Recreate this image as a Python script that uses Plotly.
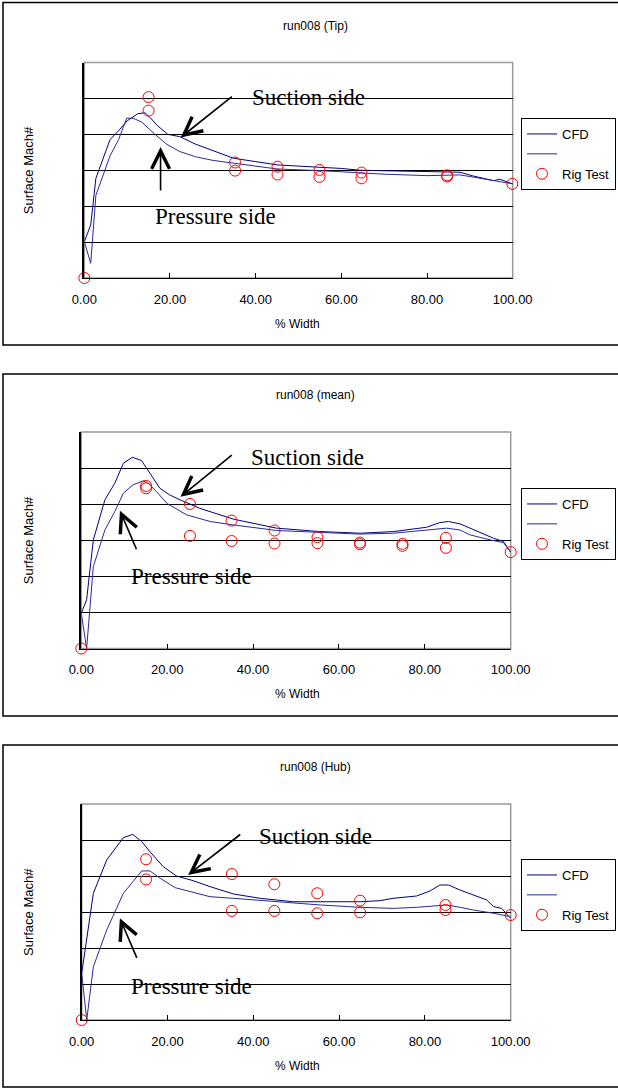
import plotly.graph_objects as go

# ---------------- data ----------------
panel_titles = ["run008 (Tip)", "run008 (mean)", "run008 (Hub)"]
x_ticks = [0, 20, 40, 60, 80, 100]
grid_vals = [0.2, 0.4, 0.6, 0.8, 1.0]

# Tip
tip_suction_x = [0, 1.5, 2.7, 6.0, 8.0, 10.0, 12.5, 14.2, 15.5, 17.0, 19.5, 22.3, 26.0, 30.0, 34.8, 40.0, 45.0, 50.0, 55.0, 60.0, 64.4, 70.0, 80.0, 87.7, 90.8, 95.5, 97.0, 100.0]
tip_suction_y = [0.202, 0.295, 0.555, 0.77, 0.82, 0.875, 0.915, 0.92, 0.89, 0.85, 0.80, 0.787, 0.745, 0.71, 0.667, 0.648, 0.63, 0.623, 0.617, 0.61, 0.60, 0.597, 0.592, 0.589, 0.568, 0.542, 0.55, 0.524]
tip_pressure_x = [0, 1.5, 2.7, 6.0, 8.0, 9.9, 11.4, 13.4, 16.5, 19.2, 22.3, 26.0, 30.0, 34.8, 40.0, 45.0, 55.0, 64.4, 70.0, 80.0, 87.7, 90.8, 95.5, 100.0]
tip_pressure_y = [0.202, 0.082, 0.46, 0.68, 0.77, 0.89, 0.89, 0.868, 0.80, 0.745, 0.704, 0.675, 0.655, 0.639, 0.62, 0.607, 0.598, 0.583, 0.578, 0.57, 0.574, 0.562, 0.542, 0.524]
tip_rig_x = [0, 15.0, 15.0, 35.2, 35.2, 45.1, 45.1, 54.9, 54.9, 64.7, 64.7, 84.7, 84.7, 99.9]
tip_rig_y = [0.0, 1.007, 0.932, 0.643, 0.598, 0.620, 0.576, 0.602, 0.563, 0.587, 0.555, 0.572, 0.565, 0.524]

# Mean
mean_suction_x = [0, 1.24, 2.8, 5.5, 7.8, 9.8, 11.9, 14.0, 16.0, 18.3, 20.6, 23.0, 27.6, 35.4, 45.5, 55.6, 61.0, 64.9, 72.7, 80.4, 83.5, 85.5, 88.2, 90.5, 94.4, 96.0, 98.3, 100.0]
mean_suction_y = [0.196, 0.27, 0.602, 0.824, 0.916, 1.027, 1.06, 1.042, 0.971, 0.888, 0.851, 0.824, 0.777, 0.717, 0.667, 0.648, 0.643, 0.639, 0.648, 0.672, 0.698, 0.704, 0.691, 0.667, 0.630, 0.611, 0.593, 0.534]
mean_pressure_x = [0, 1.24, 2.8, 5.5, 7.8, 9.8, 12.0, 14.4, 15.6, 17.5, 19.9, 24.5, 30.0, 35.4, 45.5, 55.6, 61.0, 64.9, 72.7, 80.4, 85.1, 88.2, 90.5, 95.2, 98.3, 100.0]
mean_pressure_y = [0.196, 0.0, 0.454, 0.657, 0.759, 0.861, 0.907, 0.929, 0.916, 0.87, 0.805, 0.741, 0.704, 0.685, 0.654, 0.643, 0.639, 0.634, 0.639, 0.657, 0.667, 0.657, 0.63, 0.602, 0.587, 0.534]
mean_rig_x = [0, 15.1, 15.1, 25.3, 25.3, 35.0, 35.0, 45.0, 45.0, 55.0, 55.0, 64.9, 64.9, 74.8, 74.8, 84.9, 84.9, 100.0]
mean_rig_y = [0.0, 0.901, 0.888, 0.801, 0.624, 0.709, 0.596, 0.654, 0.582, 0.617, 0.584, 0.587, 0.578, 0.580, 0.569, 0.613, 0.558, 0.534]

# Hub
hub_suction_x = [0, 2.72, 5.83, 9.71, 11.9, 14.0, 15.9, 19.0, 22.1, 26.0, 29.9, 35.4, 41.6, 49.3, 57.1, 64.9, 69.5, 72.6, 78.1, 81.2, 83.5, 85.5, 88.2, 91.3, 94.4, 96.0, 97.9, 100.0]
hub_suction_y = [0.259, 0.704, 0.889, 1.013, 1.031, 0.991, 0.935, 0.852, 0.80, 0.774, 0.741, 0.70, 0.676, 0.657, 0.657, 0.657, 0.663, 0.676, 0.689, 0.717, 0.75, 0.75, 0.722, 0.694, 0.667, 0.63, 0.62, 0.565]
hub_pressure_x = [0, 1.17, 2.72, 5.83, 9.71, 14.0, 15.9, 18.3, 21.8, 26.0, 29.9, 35.4, 45.5, 55.6, 64.9, 72.6, 78.1, 85.1, 88.2, 91.3, 96.0, 100.0]
hub_pressure_y = [0.259, 0.0, 0.296, 0.50, 0.704, 0.828, 0.828, 0.787, 0.735, 0.707, 0.685, 0.676, 0.657, 0.639, 0.626, 0.62, 0.626, 0.639, 0.626, 0.611, 0.593, 0.574]
hub_rig_x = [0, 15.0, 15.0, 35.0, 35.0, 44.9, 44.9, 54.9, 54.9, 64.9, 64.9, 84.8, 84.8, 100.0]
hub_rig_y = [0.0, 0.893, 0.781, 0.811, 0.606, 0.754, 0.606, 0.704, 0.593, 0.663, 0.598, 0.639, 0.611, 0.583]

# annotation anchor points (axis units): (tip_x, tip_y, tail_x, tail_y) and text positions
suction_arrows = [(22.5, 0.783, 34.8, 1.017), (23.1, 0.841, 35.4, 1.078), (24.8, 0.806, 37.3, 1.037)]
pressure_arrows = [(17.8, 0.729, 17.8, 0.479), (9.0, 0.764, 13.0, 0.542), (8.9, 0.565, 13.0, 0.337)]
suction_text_pos = [(38.6, 1.006), (39.1, 1.061), (40.9, 1.018)]
pressure_text_pos = [(16.0, 0.341), (11.2, 0.398), (11.0, 0.185)]

# ---------------- layout geometry (pixels) ----------------
W, H = 618, 1088
plot_boxes = [(84.3, 512.7, 62.5, 278.0), (81.3, 510.7, 432.0, 648.5), (81.7, 510.7, 804.0, 1020.0)]
outer_boxes = [(3, 2.5, 345), (3, 374, 716), (3, 745, 1087)]
legend_tops = [118, 488, 859]

SANS = "Liberation Sans, Arial, sans-serif"
SERIF = "Liberation Serif, Times New Roman, serif"
NAVY = "#00007f"
NAVY2 = "#2a2a9a"

series = [
    (tip_suction_x, tip_suction_y, tip_pressure_x, tip_pressure_y, tip_rig_x, tip_rig_y),
    (mean_suction_x, mean_suction_y, mean_pressure_x, mean_pressure_y, mean_rig_x, mean_rig_y),
    (hub_suction_x, hub_suction_y, hub_pressure_x, hub_pressure_y, hub_rig_x, hub_rig_y),
]

fig = go.Figure()
layout = dict(
    template="none",
    width=W, height=H, margin=dict(l=0, r=0, t=0, b=0, pad=0, autoexpand=False),
    paper_bgcolor="white", plot_bgcolor="white",
    shapes=[], annotations=[],
)

for i in range(3):
    sx, sy, px, py, rx, ry = series[i]
    xa = "x" if i == 0 else f"x{i+1}"
    ya = "y" if i == 0 else f"y{i+1}"
    lg = "legend" if i == 0 else f"legend{i+1}"
    fig.add_trace(go.Scatter(x=sx, y=sy, mode="lines", name="CFD", xaxis=xa, yaxis=ya,
                             line=dict(color=NAVY, width=1), legend=lg))
    fig.add_trace(go.Scatter(x=px, y=py, mode="lines", name=" ", xaxis=xa, yaxis=ya,
                             line=dict(color=NAVY2, width=1), legend=lg))
    fig.add_trace(go.Scatter(x=rx, y=ry, mode="markers", name="Rig Test", xaxis=xa, yaxis=ya,
                             marker=dict(symbol="circle-open", color="#ff0000", size=11,
                                         line=dict(width=1, color="#ff0000")),
                             cliponaxis=False, legend=lg))

    x0, x1, yt, yb = plot_boxes[i]
    xkey = "xaxis" if i == 0 else f"xaxis{i+1}"
    ykey = "yaxis" if i == 0 else f"yaxis{i+1}"
    layout[xkey] = dict(
        domain=[x0 / W, x1 / W], anchor=ya, range=[0, 100], automargin=False,
        tickmode="array", tickvals=x_ticks, ticktext=[f"{v:.2f}" for v in x_ticks],
        ticks="inside", ticklen=5, tickcolor="black", tickwidth=1, ticklabelstandoff=9,
        showgrid=False, zeroline=False, showline=True, linecolor="black", linewidth=1,
        tickfont=dict(family=SANS, size=13, color="black"),
        fixedrange=True,
    )
    layout[ykey] = dict(
        domain=[1 - yb / H, 1 - yt / H], anchor=xa, range=[0, 1.2], automargin=False,
        tickmode="array", tickvals=grid_vals, showticklabels=False,
        showgrid=True, gridcolor="black", gridwidth=1, zeroline=False,
        showline=True, linecolor="black", linewidth=1.5, ticks="",
        fixedrange=True,
    )
    # plot area border (grey)
    layout["shapes"].append(dict(type="rect", xref=f"{xa} domain", yref=f"{ya} domain",
                                 x0=0, x1=1, y0=0, y1=1, line=dict(color="#9a9a9a", width=1.5),
                                 layer="below"))
    # outer chart border
    bx, by0, by1 = outer_boxes[i]
    layout["shapes"].append(dict(type="rect", xref="paper", yref="paper",
                                 x0=bx / W, x1=(W + 5) / W, y0=1 - by1 / H, y1=1 - by0 / H,
                                 line=dict(color="black", width=1.5)))
    # title
    layout["annotations"].append(dict(text=panel_titles[i], xref="paper", yref="paper",
                                      x=315 / W, y=1 - (yt - 37) / H, showarrow=False,
                                      font=dict(family=SANS, size=12, color="black"),
                                      xanchor="center", yanchor="middle"))
    # x axis title
    layout["annotations"].append(dict(text="% Width", xref="paper", yref="paper",
                                      x=297 / W, y=1 - (yb + 45.5) / H, showarrow=False,
                                      font=dict(family=SANS, size=12, color="black"),
                                      xanchor="center", yanchor="middle"))
    # y axis title
    layout["annotations"].append(dict(text="Surface Mach#", xref="paper", yref="paper",
                                      x=28 / W, y=1 - (yt + yb) / 2 / H, showarrow=False,
                                      textangle=-90, font=dict(family=SANS, size=13, color="black"),
                                      xanchor="center", yanchor="middle"))
    # Suction / Pressure arrows + text
    tx, ty, ax_, ay_ = suction_arrows[i]
    layout["annotations"].append(dict(text="", x=tx, y=ty, ax=ax_, ay=ay_, xref=xa, yref=ya,
                                      axref=xa, ayref=ya, showarrow=True, arrowhead=5,
                                      arrowsize=2.2, arrowwidth=1.6, arrowcolor="black"))
    tx, ty, ax_, ay_ = pressure_arrows[i]
    layout["annotations"].append(dict(text="", x=tx, y=ty, ax=ax_, ay=ay_, xref=xa, yref=ya,
                                      axref=xa, ayref=ya, showarrow=True, arrowhead=5,
                                      arrowsize=2.2, arrowwidth=1.6, arrowcolor="black"))
    sxp, syp = suction_text_pos[i]
    layout["annotations"].append(dict(text="Suction side", x=sxp, y=syp, xref=xa, yref=ya,
                                      showarrow=False, xanchor="left", yanchor="middle",
                                      font=dict(family=SERIF, size=23, color="black")))
    pxp, pyp = pressure_text_pos[i]
    layout["annotations"].append(dict(text="Pressure side", x=pxp, y=pyp, xref=xa, yref=ya,
                                      showarrow=False, xanchor="left", yanchor="middle",
                                      font=dict(family=SERIF, size=23, color="black")))
    # legend
    layout[lg] = dict(x=521 / W, y=1 - legend_tops[i] / H, xanchor="left", yanchor="top",
                      bordercolor="black", borderwidth=1, bgcolor="white",
                      font=dict(family=SANS, size=13, color="black"),
                      itemwidth=30, tracegroupgap=0, traceorder="normal")

fig.update_layout(**layout)
fig.write_html("out.html", config={"displayModeBar": False},
               post_script="document.body.style.margin='0';document.body.style.overflow='hidden';")
